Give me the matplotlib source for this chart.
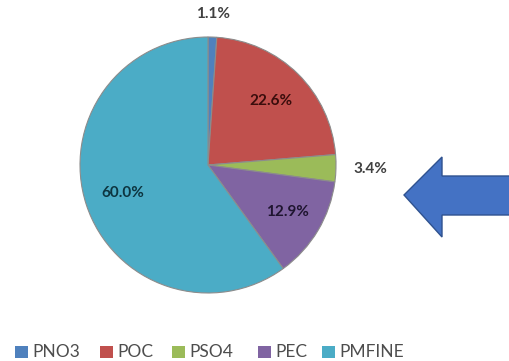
import numpy as np
import matplotlib
matplotlib.use("Agg")
import matplotlib.pyplot as plt
from matplotlib.patches import Polygon, Rectangle

categories = ["PNO3", "POC", "PSO4", "PEC", "PMFINE"]
shares = [1.1, 22.6, 3.4, 12.9, 60.0]

colors = ["#4F81BD", "#C0504D", "#9BBB59", "#8064A2", "#4BACC6"]
label_colors = ["#404040", "#3a0d0c", "#404040", "#1f1530", "#0d3540"]
label_dist = [1.18, 0.70, 1.27, 0.72, 0.70]

W, H = 510, 361
fig = plt.figure(figsize=(W / 100, H / 100), dpi=100)
ax = fig.add_axes([0, 0, 1, 1])
ax.set_xlim(0, W)
ax.set_ylim(0, H)
ax.set_aspect("equal")
ax.axis("off")

cx, cy, r = 208, H - 165, 128
wedges, _ = ax.pie(shares, colors=colors, startangle=90, counterclock=False,
                   center=(cx, cy), radius=r,
                   wedgeprops=dict(edgecolor="#8c8c8c", linewidth=0.8))
ax.set_xlim(0, W)
ax.set_ylim(0, H)

font = ["Lato", "DejaVu Sans"]
for w, val, d, c in zip(wedges, shares, label_dist, label_colors):
    mid = np.deg2rad((w.theta1 + w.theta2) / 2)
    x = cx + d * r * np.cos(mid)
    y = cy + d * r * np.sin(mid)
    ax.text(x, y, f"{val:.1f}%", ha="center", va="center", fontsize=11,
            fontweight="bold", color=c, family=font)

# arrow pointing at the chart
arrow = Polygon([(404, H - 195), (442, H - 157), (442, H - 176), (512, H - 176),
                 (512, H - 215), (442, H - 215), (442, H - 237)],
                closed=True, facecolor="#4472C4", edgecolor="#2F528F", linewidth=1)
ax.add_patch(arrow)

# legend row
legend_x = [15, 100, 172, 258, 322]
ly = H - 352
for x0, name, c in zip(legend_x, categories, colors):
    ax.add_patch(Rectangle((x0, ly - 6), 13, 12, facecolor=c, edgecolor="none"))
    ax.text(x0 + 17, ly, name, ha="left", va="center", fontsize=12.5,
            color="#4d4d4d", family=font)

fig.savefig("out.png", dpi=100, facecolor="white")
